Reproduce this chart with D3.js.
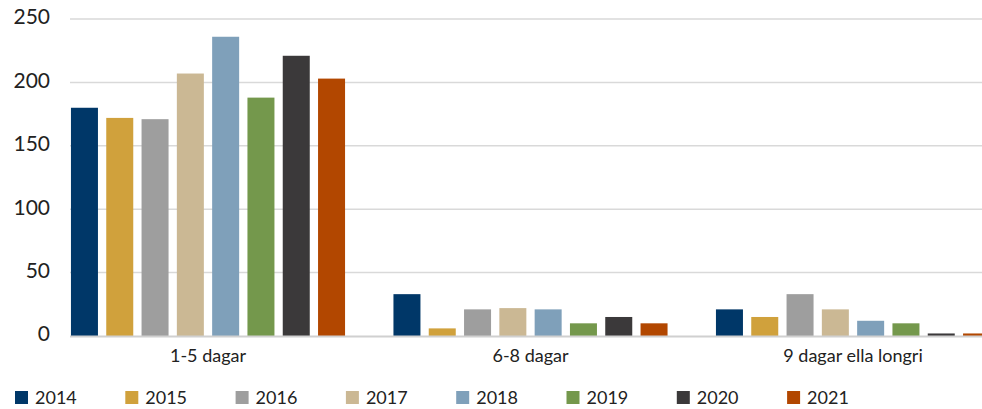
<!DOCTYPE html>
<html>
<head>
<meta charset="utf-8">
<script src="https://cdn.jsdelivr.net/npm/d3@7"></script>
<style>
  body { margin: 0; background: #fff; }
  svg { display: block; font-family: "Lato", "Open Sans", sans-serif; }
</style>
</head>
<body>
<div id="chart"></div>
<script>
const categories = ["1-5 dagar", "6-8 dagar", "9 dagar ella longri"];
const years = ["2014", "2015", "2016", "2017", "2018", "2019", "2020", "2021"];
const values = {
  "2014": [180, 33, 21],
  "2015": [172, 6, 15],
  "2016": [171, 21, 33],
  "2017": [207, 22, 21],
  "2018": [236, 21, 12],
  "2019": [188, 10, 10],
  "2020": [221, 15, 2],
  "2021": [203, 10, 2]
};
const colors = ["#003768", "#d0a13c", "#9e9e9e", "#cbb894", "#7fa0ba", "#74984c", "#3b393a", "#b24700"];
const yTicks = [0, 50, 100, 150, 200, 250];

const width = 982, height = 409;

const svg = d3.select("#chart")
  .append("svg")
  .attr("width", width)
  .attr("height", height);

const x0 = d3.scaleBand()
  .domain(categories)
  .range([46.75, 1014.25]);

const groupSpan = 282.4;
const x1 = d3.scaleBand()
  .domain(years)
  .range([(x0.bandwidth() - groupSpan) / 2, (x0.bandwidth() + groupSpan) / 2])
  .paddingInner(0.235)
  .paddingOuter(0.1175);

const y = d3.scaleLinear()
  .domain([0, 250])
  .range([336, 19]);

const color = d3.scaleOrdinal().domain(years).range(colors);

// gridlines
svg.append("g")
  .selectAll("line")
  .data(yTicks.filter(d => d > 0))
  .enter()
  .append("line")
  .attr("x1", 70)
  .attr("x2", width)
  .attr("y1", d => y(d))
  .attr("y2", d => y(d))
  .attr("stroke", "#d9d9d9")
  .attr("stroke-width", 1.5);

// y labels
svg.append("g")
  .selectAll("text")
  .data(yTicks)
  .enter()
  .append("text")
  .attr("x", 50)
  .attr("y", d => y(d) - 2)
  .attr("dy", "0.35em")
  .attr("text-anchor", "end")
  .style("font-size", "21px")
  .style("fill", "#222")
  .text(d => d);

// bars
const rows = years.map(yr => ({ year: yr, vals: values[yr] }));
svg.append("g")
  .selectAll("g")
  .data(rows)
  .enter()
  .append("g")
  .attr("fill", d => color(d.year))
  .selectAll("rect")
  .data(d => d.vals.map((v, i) => ({ year: d.year, cat: categories[i], value: v })))
  .enter()
  .append("rect")
  .attr("x", d => x0(d.cat) + x1(d.year))
  .attr("y", d => y(d.value))
  .attr("width", x1.bandwidth())
  .attr("height", d => y(0) - y(d.value));

// baseline
svg.append("line")
  .attr("x1", 70)
  .attr("x2", width)
  .attr("y1", y(0) + 0.5)
  .attr("y2", y(0) + 0.5)
  .attr("stroke", "#d0d0d0")
  .attr("stroke-width", 2);

// category labels
svg.append("g")
  .selectAll("text")
  .data(categories)
  .enter()
  .append("text")
  .attr("x", d => x0(d) + x0.bandwidth() / 2)
  .attr("y", 362)
  .attr("text-anchor", "middle")
  .style("font-size", "18px")
  .style("fill", "#222")
  .text(d => d);

// legend
const legend = svg.selectAll(".legend")
  .data(years)
  .enter()
  .append("g")
  .attr("class", "legend")
  .attr("transform", (d, i) => "translate(" + (15 + i * 110.3) + ",391)");

legend.append("rect")
  .attr("width", 13)
  .attr("height", 13)
  .style("fill", color);

legend.append("text")
  .attr("x", 20)
  .attr("y", 13)
  .style("font-size", "18px")
  .style("fill", "#222")
  .text(d => d);
</script>
</body>
</html>
